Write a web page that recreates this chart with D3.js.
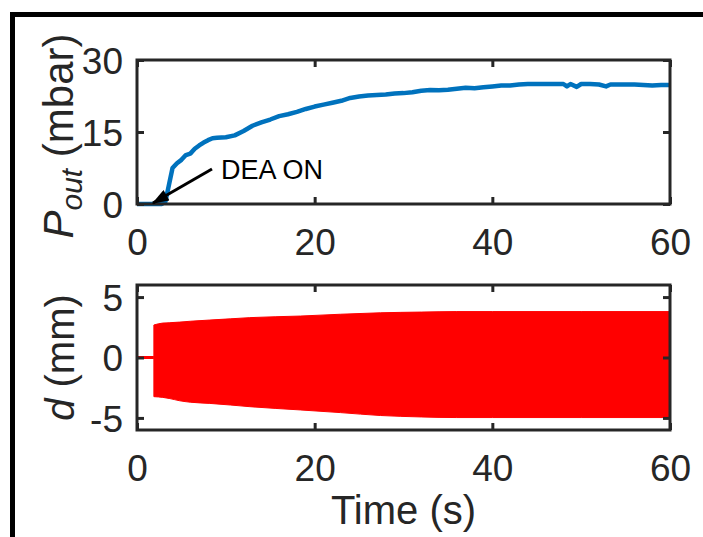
<!DOCTYPE html>
<html><head><meta charset="utf-8">
<script src="https://cdn.jsdelivr.net/npm/d3@7"></script>
<style>
html,body{margin:0;padding:0;background:#fff;}
svg{display:block;font-family:"Liberation Sans",Arial,Helvetica,sans-serif;}
</style></head>
<body>
<svg id="chart" width="703" height="537"></svg>
<script>
// ---- data ----
const xTicks = [0, 20, 40, 60];
const pTicks = [0, 15, 30];
const dTicks = [-5, 0, 5];

// Output pressure P_out (mbar) vs time (s)
const pTime  = [0, 1, 2, 2.8, 3.2, 3.6, 4.0, 4.5, 5.0, 5.5, 6.0, 6.5, 7.0, 7.5, 8.0, 8.5, 9, 10, 11, 12, 13, 14, 15, 16, 17, 18, 19, 20, 21, 22, 23, 24, 25, 26, 27, 28, 29, 30, 31, 32, 33, 34, 35, 36, 37, 38, 39, 40, 41, 42, 43, 44, 45, 46, 47, 48, 48.4, 48.8, 49.5, 50, 51, 52, 52.8, 53.3, 55, 56, 57, 58, 59, 60];
const pValue = [0, 0, 0, 0, 0.5, 4, 7.5, 8.5, 9.2, 10.2, 10.5, 11.5, 12.2, 12.8, 13.3, 13.7, 13.8, 13.9, 14.3, 15.2, 16.3, 17.0, 17.6, 18.3, 18.7, 19.2, 19.8, 20.3, 20.7, 21.1, 21.5, 22.1, 22.4, 22.6, 22.7, 22.8, 23.0, 23.1, 23.3, 23.6, 23.75, 23.7, 23.8, 24.0, 24.2, 24.1, 24.3, 24.5, 24.7, 24.7, 24.9, 25.0, 25.0, 25.0, 25.0, 25.0, 24.5, 25.0, 24.4, 25.0, 25.0, 24.9, 24.5, 24.9, 24.9, 24.9, 24.8, 24.7, 24.8, 24.8];

// Displacement d (mm): flat before actuation, then oscillation envelope
const dRestTime  = [0, 1.9];
const dRestValue = [0, 0];
const dEnvTime  = [1.9, 2.9, 3.7, 4.8, 6.0, 8.2, 10.5, 12.7, 18.4, 22.9, 27.4, 32, 36, 40, 50, 60];
const dEnvUpper = [2.69, 2.85, 2.88, 2.93, 3.0, 3.1, 3.2, 3.3, 3.43, 3.58, 3.7, 3.76, 3.8, 3.8, 3.8, 3.8];
const dEnvLower = [-3.24, -3.3, -3.4, -3.58, -3.7, -3.8, -3.93, -4.07, -4.34, -4.56, -4.8, -4.92, -4.97, -4.97, -4.97, -4.97];

const annotation = "DEA ON";

// ---- layout ----
const svg = d3.select("#chart");
const axisColor = "#262626";
const L = 137, R = 670;
const top1 = 60, bot1 = 204;
const top2 = 285, bot2 = 430;

// outer frame
svg.append("rect").attr("x", 12.5).attr("y", 14.5).attr("width", 760).attr("height", 600)
  .attr("fill", "none").attr("stroke", "#000").attr("stroke-width", 5);

const x = d3.scaleLinear().domain([0, 60]).range([L, R]);
const yP = d3.scaleLinear().domain([0, 30]).range([bot1, top1]);
const yD = d3.scaleLinear().domain([-6, 6]).range([bot2, top2]);

function drawAxes(y, ticks, top, bot) {
  const tl = 7;
  const gB = svg.append("g").attr("transform", `translate(0,${bot})`)
    .call(d3.axisBottom(x).tickValues(xTicks).tickSize(-tl).tickSizeOuter(0).tickPadding(0).tickFormat(d => String(d)));
  gB.selectAll("text").attr("y", 51).attr("dy", 0);
  const gT = svg.append("g").attr("transform", `translate(0,${top})`)
    .call(d3.axisTop(x).tickValues(xTicks).tickSize(-tl).tickSizeOuter(0).tickFormat(""));
  const gL = svg.append("g").attr("transform", `translate(${L},0)`)
    .call(d3.axisLeft(y).tickValues(ticks).tickSize(-tl).tickSizeOuter(0).tickPadding(14).tickFormat(d => String(d)));
  const gR = svg.append("g").attr("transform", `translate(${R},0)`)
    .call(d3.axisRight(y).tickValues(ticks).tickSize(-tl).tickSizeOuter(0).tickFormat(""));
  [gB, gT, gL, gR].forEach(g => {
    g.select(".domain").remove();
    g.selectAll("line").attr("stroke", axisColor).attr("stroke-width", 3);
    g.selectAll("text").attr("fill", axisColor).style("font-size", "37px")
      .style("font-family", '"Liberation Sans",Arial,Helvetica,sans-serif');
  });
  gL.selectAll("text").attr("dy", "0.36em");
  svg.append("rect").attr("x", L).attr("y", top).attr("width", R - L).attr("height", bot - top)
    .attr("fill", "none").attr("stroke", axisColor).attr("stroke-width", 3);
}

// ---- top panel ----
const pData = pTime.map((t, i) => [t, pValue[i]]);
svg.append("path").datum(pData)
  .attr("fill", "none").attr("stroke", "#0072BD").attr("stroke-width", 4.5)
  .attr("stroke-linejoin", "round")
  .attr("d", d3.line().x(d => x(d[0])).y(d => yP(d[1])));
drawAxes(yP, pTicks, top1, bot1);

// annotation arrow
svg.append("defs").append("marker").attr("id", "ah").attr("viewBox", "0 0 14 10")
  .attr("refX", 13).attr("refY", 5).attr("markerWidth", 6).attr("markerHeight", 4)
  .attr("orient", "auto").attr("markerUnits", "strokeWidth")
  .append("path").attr("d", "M0,0 L14,5 L0,10 z").attr("fill", "#000");
svg.append("line").attr("x1", 212).attr("y1", 169).attr("x2", x(1.8)).attr("y2", yP(0.2))
  .attr("stroke", "#000").attr("stroke-width", 3).attr("marker-end", "url(#ah)");
svg.append("text").attr("x", 221).attr("y", 179).text(annotation)
  .style("font-size", "27px").attr("fill", "#000");

// y label top
const yl1 = svg.append("text").attr("transform", `translate(73,136) rotate(-90)`)
  .attr("text-anchor", "middle").attr("fill", axisColor).style("font-size", "42px");
yl1.append("tspan").style("font-style", "italic").text("P");
yl1.append("tspan").style("font-style", "italic").style("font-size", "30px").attr("dy", 9).text("out");
yl1.append("tspan").attr("dy", -9).text(" (mbar)");

// ---- bottom panel ----
const restData = dRestTime.map((t, i) => [t, dRestValue[i]]);
const envData = dEnvTime.map((t, i) => [t, dEnvLower[i], dEnvUpper[i]]);
svg.append("path").datum(restData).attr("fill", "none").attr("stroke", "#FF0000").attr("stroke-width", 3)
  .attr("d", d3.line().x(d => x(d[0])).y(d => yD(d[1])));
svg.append("path").datum(envData).attr("fill", "#FF0000").attr("stroke", "#FF0000").attr("stroke-width", 1)
  .attr("d", d3.area().x(d => x(d[0])).y0(d => yD(d[1])).y1(d => yD(d[2])).curve(d3.curveMonotoneX));
drawAxes(yD, dTicks, top2, bot2);

const yl2 = svg.append("text").attr("transform", `translate(74,${(top2 + bot2) / 2}) rotate(-90)`)
  .attr("text-anchor", "middle").attr("fill", axisColor).style("font-size", "40px");
yl2.append("tspan").style("font-style", "italic").text("d");
yl2.append("tspan").text(" (mm)");

svg.append("text").attr("x", (L + R) / 2).attr("y", 524).attr("text-anchor", "middle")
  .attr("fill", axisColor).style("font-size", "40px").text("Time (s)");
</script>
</body></html>
